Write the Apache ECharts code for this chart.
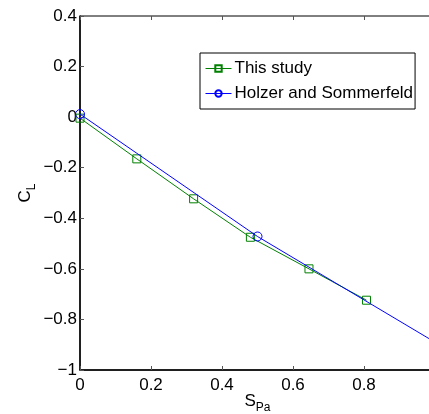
<!DOCTYPE html>
<html>
<head>
<meta charset="utf-8">
<script src="https://cdn.jsdelivr.net/npm/echarts@6/dist/echarts.min.js"></script>
<style>
  html, body { margin: 0; padding: 0; background: #fff; }
  #chart { width: 429px; height: 414px; }
</style>
</head>
<body>
<div id="chart"></div>
<script>
// data
const studyX = [0, 0.16, 0.32, 0.48, 0.645, 0.807]
const studyY = [-0.004, -0.165, -0.323, -0.475, -0.6, -0.724]
const holzerX = [0, 0.5, 1.0]
const holzerY = [0.012, -0.472, -0.89]
const xTicks = [0, 0.2, 0.4, 0.6, 0.8, 1]
const yTicks = [-1, -0.8, -0.6, -0.4, -0.2, 0, 0.2, 0.4]

const font = 'Liberation Sans, Arial, Helvetica, sans-serif'

function fmt(v) {
  const n = parseFloat(Number(v).toFixed(1))
  return n < 0 ? '\u2212' + Math.abs(n) : String(n)
}

const chart = echarts.init(document.getElementById('chart'), null, { renderer: 'canvas' })

const option = {
  animation: false,
  backgroundColor: '#fff',
  textStyle: { fontFamily: font },
  grid: {
    left: 80,
    top: 16,
    right: -6,
    bottom: 44,
    outerBoundsMode: 'none',
    containLabel: false,
    show: true,
    borderColor: '#000',
    borderWidth: 1
  },
  legend: {
    orient: 'vertical',
    left: 200,
    top: 53,
    padding: [6, 2, 6, 5],
    itemWidth: 26,
    itemHeight: 8,
    itemGap: 6,
    backgroundColor: '#fff',
    borderColor: '#000',
    borderWidth: 1,
    lineStyle: { width: 1 },
    textStyle: { color: '#000', fontSize: 17, fontFamily: font, padding: [0, 0, 0, -2], lineHeight: 19 },
    data: ['This study', 'Holzer and Sommerfeld']
  },
  xAxis: [{
    type: 'value',
    min: xTicks[0],
    max: xTicks[xTicks.length - 1],
    interval: 0.2,
    axisLine: { show: true, onZero: false, lineStyle: { color: '#000', width: 1.5 } },
    axisTick: { show: true, inside: true, length: 4, lineStyle: { color: '#555' } },
    axisLabel: { color: '#000', fontSize: 17, margin: 7, formatter: fmt },
    splitLine: { show: false },
    name: '{s|S}{p|Pa}',
    nameLocation: 'middle',
    nameMoveOverlap: false,
    nameGap: 18,
    nameTextStyle: {
      rich: {
        s: { fontSize: 17, color: '#000', fontFamily: font },
        p: { fontSize: 12, color: '#000', fontFamily: font, padding: [14, 0, 0, 0] }
      }
    }
  }, {
    type: 'value',
    position: 'top',
    min: xTicks[0],
    max: xTicks[xTicks.length - 1],
    interval: 0.2,
    axisLine: { show: false, onZero: false },
    axisTick: { show: true, inside: true, length: 4, lineStyle: { color: '#555' } },
    axisLabel: { show: false },
    splitLine: { show: false }
  }],
  yAxis: {
    type: 'value',
    min: yTicks[0],
    max: yTicks[yTicks.length - 1],
    interval: 0.2,
    axisLine: { show: true, onZero: false, lineStyle: { color: '#000', width: 1.5 } },
    axisTick: { show: true, inside: true, length: 4, lineStyle: { color: '#555' } },
    axisLabel: { color: '#000', fontSize: 17, margin: 3, formatter: fmt },
    splitLine: { show: false },
    name: '{c|C}{l|L}',
    nameLocation: 'middle',
    nameMoveOverlap: false,
    nameRotate: 90,
    nameGap: 42,
    nameTextStyle: {
      rich: {
        c: { fontSize: 17, color: '#000', fontFamily: font },
        l: { fontSize: 12, color: '#000', fontFamily: font, padding: [14, 0, 0, 0] }
      }
    }
  },
  series: [{
    name: 'This study',
    type: 'line',
    data: studyX.map((x, i) => [x, studyY[i]]),
    symbol: 'rect',
    symbolSize: 8,
    color: '#008000',
    lineStyle: { color: '#008000', width: 1 },
    itemStyle: { color: 'rgba(0,0,0,0)', borderColor: '#008000', borderWidth: 1 },
    z: 2
  }, {
    name: 'Holzer and Sommerfeld',
    type: 'line',
    data: holzerX.map((x, i) => [x, holzerY[i]]),
    symbol: 'circle',
    symbolSize: 9,
    color: '#0000ff',
    lineStyle: { color: '#0000ff', width: 1 },
    itemStyle: { color: 'rgba(0,0,0,0)', borderColor: '#0000ff', borderWidth: 1 },
    z: 3
  }]
}

chart.setOption(option)
</script>
</body>
</html>
